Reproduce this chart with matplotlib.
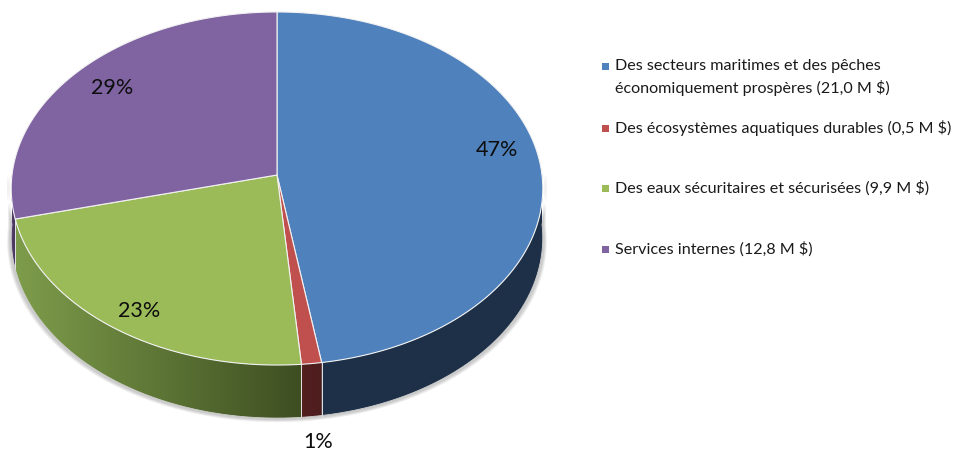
import numpy as np
import matplotlib.pyplot as plt
from matplotlib.patches import Polygon, Rectangle
from matplotlib.colors import to_rgb

# data
labels = ["Des secteurs maritimes et des pêches\néconomiquement prospères (21,0 M $)",
          "Des écosystèmes aquatiques durables (0,5 M $)",
          "Des eaux sécuritaires et sécurisées (9,9 M $)",
          "Services internes (12,8 M $)"]
values = [21.0, 0.5, 9.9, 12.8]
pct_labels = ["47%", "1%", "23%", "29%"]

# style
top_colors = ["#4F81BD", "#C0504D", "#9BBB59", "#8064A2"]
side_colors = [("#1F3149", "#1E3048"), ("#531F1F", "#4D1D1D"),
               ("#7E9D4B", "#3D4E21"), ("#5A4775", "#3E2F52")]
label_pos = [(497, 150), (318, 442), (139, 311), (112, 88)]
legend_y = [66, 128, 188, 249]

plt.rcParams['font.family'] = ['Lato', 'DejaVu Sans']

# perspective pie geometry (pixels)
cx, cy = 277, 175
a, b, k = 265, 175.5, 0.0765
depth = 49


def project(phi, r=1.0):
    u = r * np.sin(phi)
    v = -r * np.cos(phi)
    w = 1 - k * v
    return cx + a * u / w, cy + b * v / w, w


fig = plt.figure(figsize=(9.56, 4.53), dpi=100)
ax = fig.add_axes([0, 0, 1, 1])
ax.set_xlim(0, 956)
ax.set_ylim(453, 0)
ax.axis('off')

vals = np.array(values)
bounds = np.concatenate([[0], np.cumsum(vals) / vals.sum() * 2 * np.pi])

# soft shadow under the pie
phis = np.linspace(np.pi / 2, 3 * np.pi / 2, 200)
xs, ys, ws = project(phis)
for g in [4, 3, 2]:
    sx = np.concatenate([xs + g * np.sin(phis), xs[::-1] + g * np.sin(phis[::-1])])
    sy = np.concatenate([ys, ys[::-1] + depth / ws[::-1] + g])
    ax.add_patch(Polygon(np.column_stack([sx, sy]), closed=True,
                         facecolor='#000000', alpha=0.07, lw=0))

# side walls (front half only), shaded with a horizontal gradient
for i in range(len(vals)):
    s = max(bounds[i], np.pi / 2)
    e = min(bounds[i + 1], 3 * np.pi / 2)
    if e <= s:
        continue
    ph = np.linspace(s, e, 200)
    px, py, pw = project(ph)
    wall = np.column_stack([np.concatenate([px, px[::-1]]),
                            np.concatenate([py, (py + depth / pw)[::-1]])])
    patch = Polygon(wall, closed=True, facecolor='none', edgecolor='none')
    ax.add_patch(patch)
    c0, c1 = np.array(to_rgb(side_colors[i][0])), np.array(to_rgb(side_colors[i][1]))
    t = np.linspace(0, 1, 256)
    grad = (c0[None, :] + (c1 - c0)[None, :] * t[:, None])[None, :, :]
    x0, x1 = px.min(), px.max()
    y0, y1 = wall[:, 1].min(), wall[:, 1].max()
    im = ax.imshow(grad, extent=(x0 - 1, x1 + 1, y1 + 1, y0 - 1), aspect='auto',
                   interpolation='bilinear', zorder=1)
    im.set_clip_path(patch)
    for edge in (s, e):
        if np.pi / 2 < edge < 3 * np.pi / 2:
            ex, ey, ew = project(edge)
            ax.plot([ex, ex], [ey, ey + depth / ew], color='#E0E0E0', lw=0.7, zorder=2)

ax.set_xlim(0, 956)
ax.set_ylim(453, 0)

# bottom outline of wall
ax.plot(xs, ys + depth / ws, color='#D0D0D0', lw=0.6, zorder=2)

# top faces
for i in range(len(vals)):
    ph = np.linspace(bounds[i], bounds[i + 1], 200)
    px, py, _ = project(ph)
    poly = np.column_stack([np.concatenate([[cx], px]), np.concatenate([[cy], py])])
    ax.add_patch(Polygon(poly, closed=True, facecolor=top_colors[i],
                         edgecolor='#F2F2F2', lw=0.8, joinstyle='round', zorder=3))

# percentage labels
for (lx, ly), txt in zip(label_pos, pct_labels):
    ax.text(lx, ly, txt, ha='center', va='center', fontsize=15.5, color='#0D0D0D', zorder=5)

# legend
for i, lab in enumerate(labels):
    y0 = legend_y[i]
    ax.add_patch(Rectangle((602, y0 - 3.5), 7, 7, facecolor=top_colors[i], lw=0))
    for j, line in enumerate(lab.split("\n")):
        ax.text(615, y0 + j * 21.5, line, ha='left', va='center',
                fontsize=11.6, color='#1A1A1A')

fig.savefig('out.png', dpi=100)
